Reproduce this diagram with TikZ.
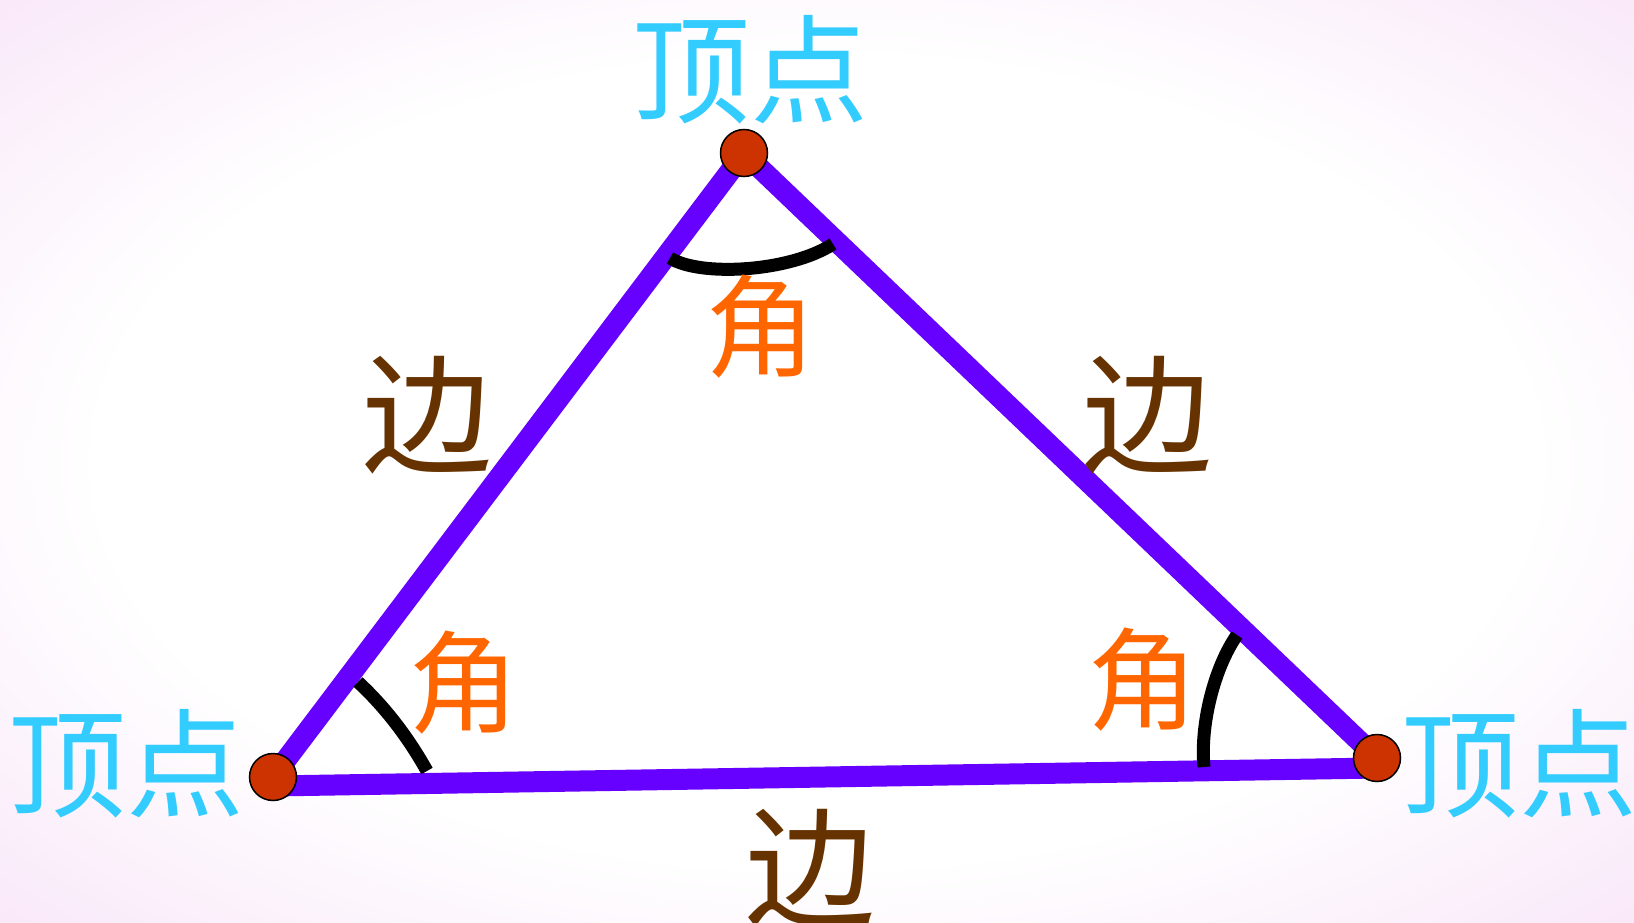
\documentclass[tikz,border=0pt]{standalone}
\usepackage{fontspec}
\usetikzlibrary{calc}
\newfontfamily\cjkfont{Noto Sans CJK SC}
\definecolor{vcyan}{HTML}{33CCFF}
\definecolor{ebrown}{HTML}{663300}
\definecolor{aorange}{HTML}{FF6600}
\definecolor{epurple}{HTML}{6600FF}
\definecolor{vred}{HTML}{CC3300}
\definecolor{bgpink}{HTML}{F8E4F8}
\definecolor{bgpinkdeep}{HTML}{F0CDF4}
\pgfdeclareradialshading{bgshade}{\pgfpoint{0bp}{0bp}}{color(0bp)=(white); color(22bp)=(white); color(38bp)=(bgpink); color(52bp)=(bgpinkdeep); color(80bp)=(bgpinkdeep)}
\tikzset{
  vtx/.style={circle, draw=black, line width=1.5pt, fill=vred, minimum size=47pt, inner sep=0pt},
  edgeline/.style={draw=epurple, line width=21pt},
  anglearc/.style={draw=black, line width=13pt},
  vlabel/.style={text=vcyan, font=\cjkfont\fontsize{118}{118}\selectfont, inner sep=0pt},
  elabel/.style={text=ebrown, font=\cjkfont\fontsize{130}{130}\selectfont, inner sep=0pt},
  alabel/.style={text=aorange, font=\cjkfont\fontsize{111}{111}\selectfont, inner sep=0pt}
}
\begin{document}
\begin{tikzpicture}[x=1pt,y=-1pt]
\useasboundingbox (0,0) rectangle (1634,923);
\shade[shading=bgshade] (0,0) rectangle (1634,923);
% vertices
\coordinate (T) at (744,153);
\coordinate (L) at (273,777);
\coordinate (R) at (1377,758);
% edges
\draw[edgeline] (L) -- (T);
\draw[edgeline] (T) -- (R);
\draw[edgeline] ($(R)+(0,10)$) -- ($(L)+(0,9)$);
% angle arcs
\draw[anglearc] (670,258) .. controls (700,277) and (790,272) .. (833,244);
\draw[anglearc] (427,771) .. controls (408,737) and (385,707) .. (358,682);
\draw[anglearc] (1204,767) .. controls (1200,725) and (1214,668) .. (1237,635);
% vertex dots
\node[vtx] (vT) at (T) {};
\node[vtx] (vL) at (L) {};
\node[vtx] (vR) at (R) {};
% labels
\node[vlabel] (tT) at (750,70) {顶点};
\node[vlabel] (tL) at (127,764) {顶点};
\node[vlabel] (tR) at (1519,764) {顶点};
\node[elabel] (eL) at (427,415) {边};
\node[elabel] (eR) at (1147,415) {边};
\node[elabel] (eB) at (810,868) {边};
\node[alabel] (aT) at (761,327) {角};
\node[alabel] (aL) at (464,683) {角};
\node[alabel] (aR) at (1143,680) {角};
\end{tikzpicture}
\end{document}
